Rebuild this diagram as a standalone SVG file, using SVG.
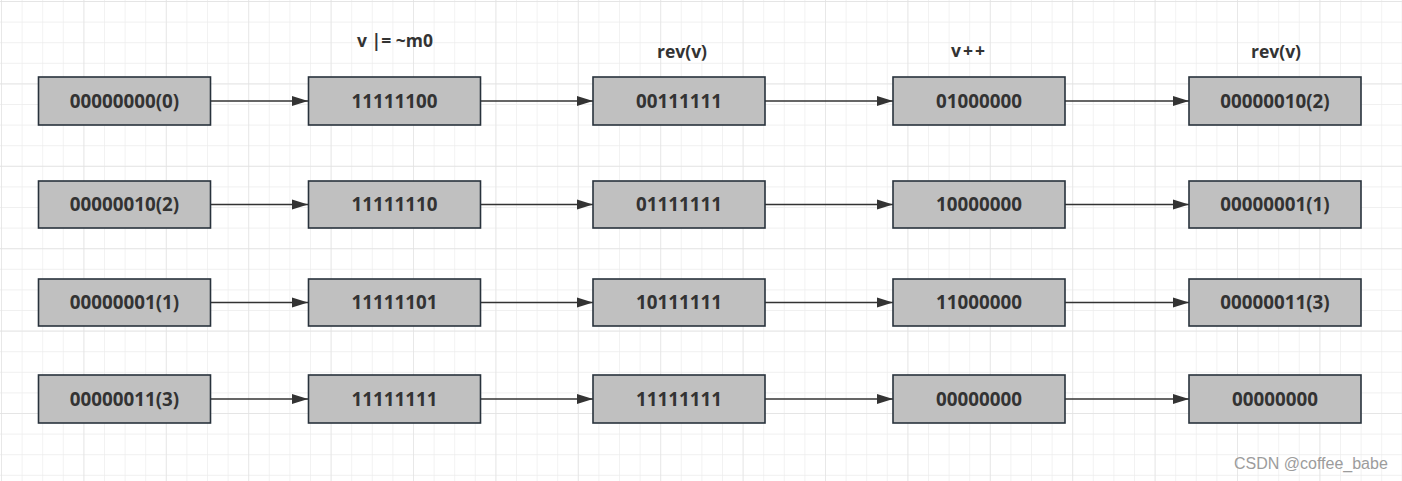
<svg xmlns="http://www.w3.org/2000/svg" width="1402" height="481" viewBox="0 0 1402 481">
<style>
.box{fill:#c0c0c0;stroke:#28323c;stroke-width:1.6}
.t{font-family:"Open Sans","Liberation Sans",sans-serif;font-weight:bold;font-size:18.8px;fill:#333;text-anchor:middle}
.lbl{font-family:"Open Sans","Liberation Sans",sans-serif;font-weight:bold;font-size:17.5px;fill:#333;text-anchor:middle}
.edge{stroke:#333;stroke-width:1.6;fill:none;marker-end:url(#ah)}
.wm{font-family:"Liberation Sans",Arial,sans-serif;font-size:16px;fill:#9c9c9c}
</style>
<defs>
<marker id="ah" markerWidth="16" markerHeight="12" refX="16" refY="6" orient="auto" markerUnits="userSpaceOnUse">
<path d="M0,1 L16,6 L0,11 Z" fill="#333"/>
</marker>
<pattern id="minor" x="1" y="1" width="20.6" height="20.6" patternUnits="userSpaceOnUse">
<path d="M0,0 H20.6 M0,0 V20.6" stroke="#ececec" stroke-width="1.3" fill="none"/>
</pattern>
<pattern id="major" x="1" y="1" width="82.4" height="82.4" patternUnits="userSpaceOnUse">
<path d="M0,0 H82.4 M0,0 V82.4" stroke="#e2e2e2" stroke-width="1.3" fill="none"/>
</pattern>
</defs>
<rect width="1402" height="481" fill="#fff"/>
<rect width="1402" height="481" fill="url(#minor)"/>
<rect width="1402" height="481" fill="url(#major)"/>

<g id="labels">
<text class="lbl" x="395" y="47">v |= ~m0</text>
<text class="lbl" x="682" y="58">rev(v)</text>
<text class="lbl" x="969" y="57" letter-spacing="2">v++</text>
<text class="lbl" x="1276" y="58">rev(v)</text>
</g>

<g id="connectors">
<path class="edge" d="M211,101 H308"/>
<path class="edge" d="M481,101 H593"/>
<path class="edge" d="M765,101 H893"/>
<path class="edge" d="M1065,101 H1189"/>
<path class="edge" d="M211,204.5 H308"/>
<path class="edge" d="M481,204.5 H593"/>
<path class="edge" d="M765,204.5 H893"/>
<path class="edge" d="M1065,204.5 H1189"/>
<path class="edge" d="M211,302.5 H308"/>
<path class="edge" d="M481,302.5 H593"/>
<path class="edge" d="M765,302.5 H893"/>
<path class="edge" d="M1065,302.5 H1189"/>
<path class="edge" d="M211,399 H308"/>
<path class="edge" d="M481,399 H593"/>
<path class="edge" d="M765,399 H893"/>
<path class="edge" d="M1065,399 H1189"/>
</g>

<g id="r1c1"><rect class="box" x="38.5" y="77" width="172" height="48"/><text class="t" x="124.5" y="108">00000000(0)</text></g>
<g id="r1c2"><rect class="box" x="308.5" y="77" width="172" height="48"/><text class="t" x="394.5" y="108">11111100</text></g>
<g id="r1c3"><rect class="box" x="593" y="77" width="172" height="48"/><text class="t" x="679" y="108">00111111</text></g>
<g id="r1c4"><rect class="box" x="893" y="77" width="172" height="48"/><text class="t" x="979" y="108">01000000</text></g>
<g id="r1c5"><rect class="box" x="1189" y="77" width="172" height="48"/><text class="t" x="1275" y="108">00000010(2)</text></g>

<g id="r2c1"><rect class="box" x="38.5" y="181" width="172" height="47"/><text class="t" x="124.5" y="211">00000010(2)</text></g>
<g id="r2c2"><rect class="box" x="308.5" y="181" width="172" height="47"/><text class="t" x="394.5" y="211">11111110</text></g>
<g id="r2c3"><rect class="box" x="593" y="181" width="172" height="47"/><text class="t" x="679" y="211">01111111</text></g>
<g id="r2c4"><rect class="box" x="893" y="181" width="172" height="47"/><text class="t" x="979" y="211">10000000</text></g>
<g id="r2c5"><rect class="box" x="1189" y="181" width="172" height="47"/><text class="t" x="1275" y="211">00000001(1)</text></g>

<g id="r3c1"><rect class="box" x="38.5" y="279" width="172" height="47"/><text class="t" x="124.5" y="309">00000001(1)</text></g>
<g id="r3c2"><rect class="box" x="308.5" y="279" width="172" height="47"/><text class="t" x="394.5" y="309">11111101</text></g>
<g id="r3c3"><rect class="box" x="593" y="279" width="172" height="47"/><text class="t" x="679" y="309">10111111</text></g>
<g id="r3c4"><rect class="box" x="893" y="279" width="172" height="47"/><text class="t" x="979" y="309">11000000</text></g>
<g id="r3c5"><rect class="box" x="1189" y="279" width="172" height="47"/><text class="t" x="1275" y="309">00000011(3)</text></g>

<g id="r4c1"><rect class="box" x="38.5" y="375" width="172" height="48"/><text class="t" x="124.5" y="405.5">00000011(3)</text></g>
<g id="r4c2"><rect class="box" x="308.5" y="375" width="172" height="48"/><text class="t" x="394.5" y="405.5">11111111</text></g>
<g id="r4c3"><rect class="box" x="593" y="375" width="172" height="48"/><text class="t" x="679" y="405.5">11111111</text></g>
<g id="r4c4"><rect class="box" x="893" y="375" width="172" height="48"/><text class="t" x="979" y="405.5">00000000</text></g>
<g id="r4c5"><rect class="box" x="1189" y="375" width="172" height="48"/><text class="t" x="1275" y="405.5">00000000</text></g>

<text class="wm" x="1234" y="469">CSDN @coffee_babe</text>
</svg>
